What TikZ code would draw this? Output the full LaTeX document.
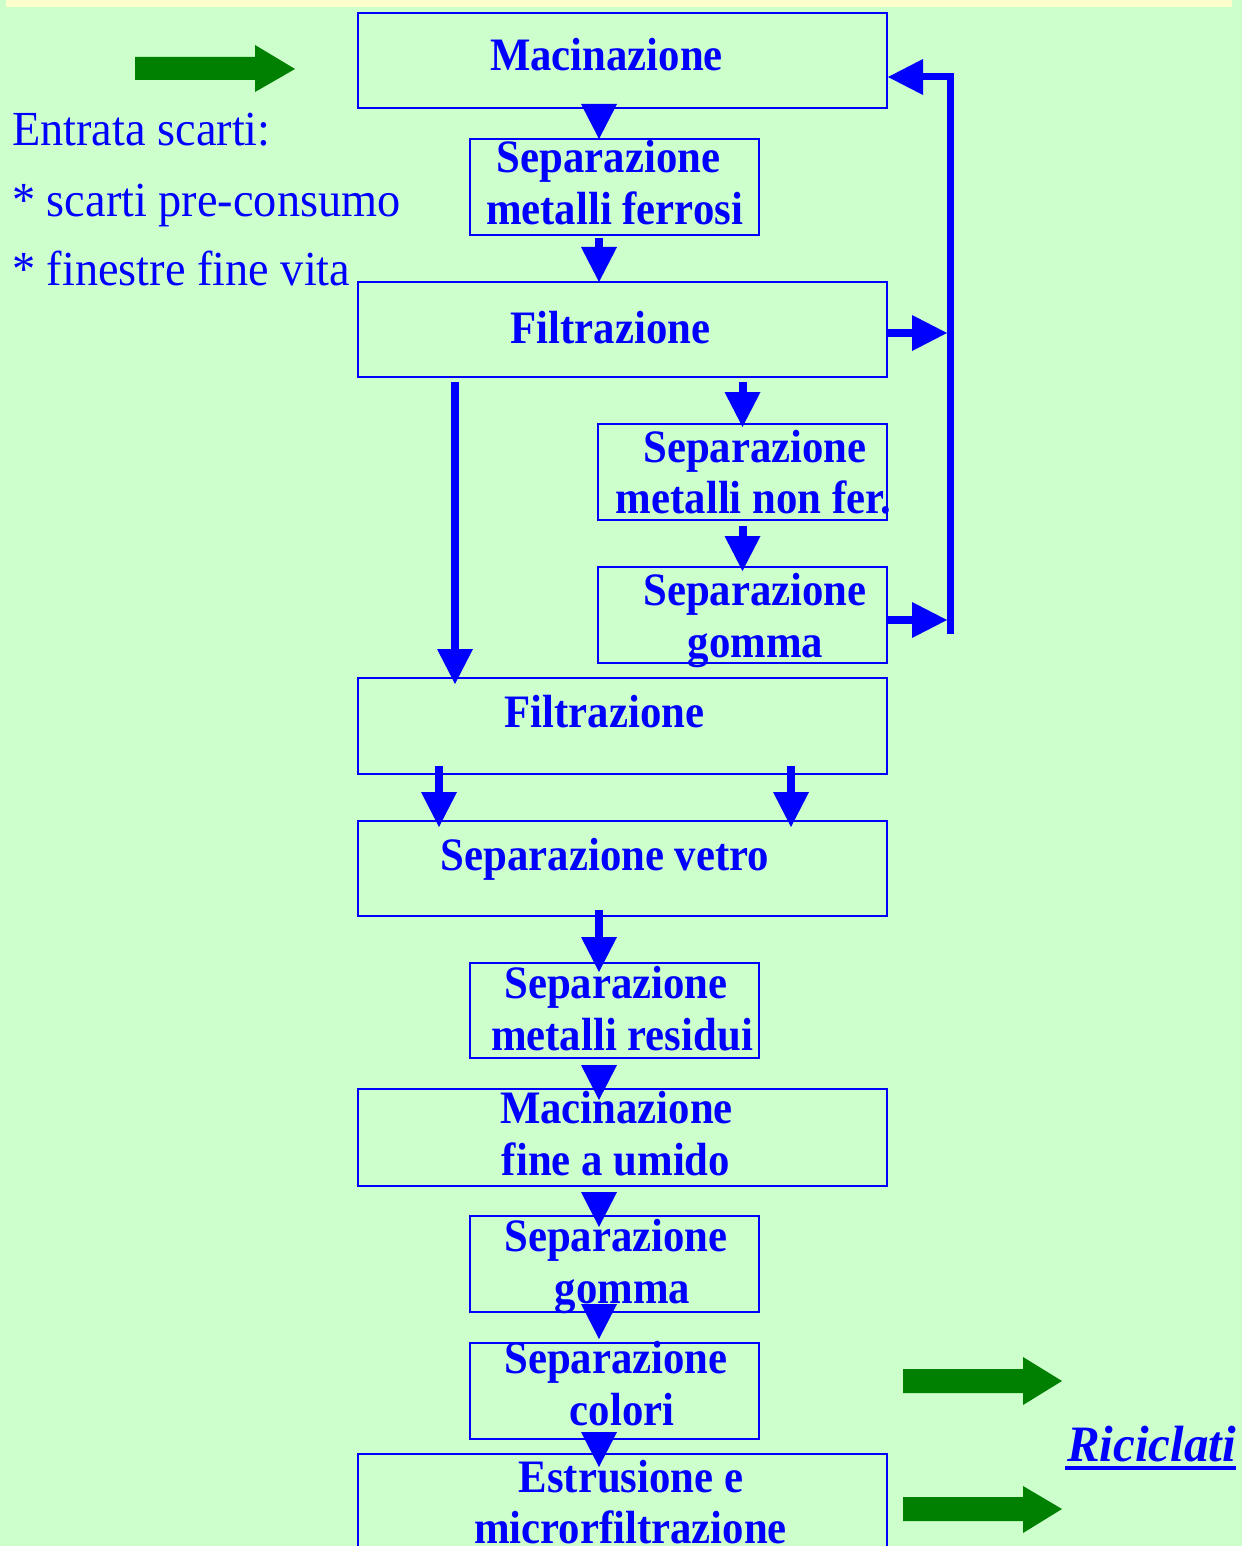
\documentclass[tikz,border=0pt]{standalone}
\usepackage{fontspec}
\setmainfont{Liberation Serif}
\newfontfamily\boxfont[FakeStretch=0.92]{Liberation Serif}
\newfontfamily\plainfont[FakeStretch=0.945]{Liberation Serif}
\newfontfamily\ricfont[FakeStretch=0.96]{Liberation Serif}
\usetikzlibrary{arrows.meta,calc}
\definecolor{bggreen}{HTML}{CCFFCC}
\definecolor{bgyellow}{HTML}{FFFFCC}
\definecolor{agreen}{HTML}{008000}
\definecolor{ablue}{HTML}{0000FF}
\tikzset{
  box/.style={draw=ablue, line width=2pt, inner sep=0pt, rectangle},
  wide/.style={box, minimum width=529pt},
  narrow/.style={box, minimum width=289pt},
  lbl/.style={anchor=base, inner sep=0pt, text=ablue, font={\boxfont\bfseries\fontsize{46.5pt}{52pt}\selectfont}},
  plain/.style={anchor=base west, inner sep=0pt, text=ablue, font={\plainfont\fontsize{49pt}{55pt}\selectfont}},
  barrow/.style={draw=ablue, line width=8pt, -{Triangle[width=36pt,length=35pt,line width=0pt]}},
  garrow/.style={fill=agreen}
}
\begin{document}
\begin{tikzpicture}[x=1pt,y=-1pt]
\useasboundingbox (0,0) rectangle (1242,1546);
\fill[bggreen] (0,0) rectangle (1242,1546);
\fill[bgyellow] (6,0) rectangle (1232,7);

% boxes
\node[wide, minimum height=95pt] (b1) at (622.5,60.5) {};
\node[narrow, minimum height=96pt] (b2) at (614.5,187) {};
\node[wide, minimum height=95pt] (b3) at (622.5,329.5) {};
\node[narrow, minimum height=96pt] (b4) at (742.5,472) {};
\node[narrow, minimum height=96pt] (b5) at (742.5,615) {};
\node[wide, minimum height=96pt] (b6) at (622.5,726) {};
\node[wide, minimum height=95pt] (b7) at (622.5,868.5) {};
\node[narrow, minimum height=95pt] (b8) at (614.5,1010.5) {};
\node[wide, minimum height=97pt] (b9) at (622.5,1137.5) {};
\node[narrow, minimum height=96pt] (b10) at (614.5,1264) {};
\node[narrow, minimum height=96pt] (b11) at (614.5,1391) {};
\node[wide, minimum height=100pt] (b12) at (622.5,1504) {};

% box texts
\node[lbl] (t1) at (606.5,71) {Macinazione};
\node[lbl] (t2a) at (608.5,173) {Separazione};
\node[lbl] (t2b) at (614.5,225) {metalli ferrosi};
\node[lbl] (t3) at (610.5,343) {Filtrazione};
\node[lbl] (t4a) at (755,462) {Separazione};
\node[lbl] (t4b) at (753.5,513) {metalli non fer.};
\node[lbl] (t5a) at (755,605) {Separazione};
\node[lbl] (t5b) at (755.5,657) {gomma};
\node[lbl] (t6) at (604.5,727) {Filtrazione};
\node[lbl] (t7) at (605,870) {Separazione vetro};
\node[lbl] (t8a) at (616,998) {Separazione};
\node[lbl] (t8b) at (622,1050) {metalli residui};
\node[lbl] (t9a) at (616.5,1123) {Macinazione};
\node[lbl] (t9b) at (616,1175) {fine a umido};
\node[lbl] (t10a) at (616,1251) {Separazione};
\node[lbl] (t10b) at (622.5,1303) {gomma};
\node[lbl] (t11a) at (616,1373) {Separazione};
\node[lbl] (t11b) at (622,1425) {colori};
\node[lbl] (t12a) at (631,1492) {Estrusione e};
\node[lbl] (t12b) at (630.5,1543) {microrfiltrazione};

% left texts
\node[plain] (e1) at (12,146) {Entrata scarti:};
\node[plain] (e2) at (12,217) {* scarti pre-consumo};
\node[plain] (e3) at (12,285) {* finestre fine vita};

% Riciclati
\node[anchor=base, inner sep=0pt, text=ablue, font={\ricfont\bfseries\itshape\fontsize{51pt}{56pt}\selectfont}] (ric) at (1151.5,1461) {Riciclati};
\draw[ablue, line width=4pt] ($(ric.base west)+(-2,7)$) -- ($(ric.base east)+(0,7)$);

% green arrows
\fill[garrow] (135,57) -- (255,57) -- (255,45) -- (295,69) -- (255,92) -- (255,80) -- (135,80) -- cycle;
\fill[garrow] (903,1369) -- (1023,1369) -- (1023,1357) -- (1062,1381) -- (1023,1405) -- (1023,1393) -- (903,1393) -- cycle;
\fill[garrow] (903,1497) -- (1023,1497) -- (1023,1486) -- (1062,1509) -- (1023,1533) -- (1023,1521) -- (903,1521) -- cycle;

% columns
\coordinate (cA) at (599,0);
\coordinate (cL) at (455,0);
\coordinate (cR) at (742.5,0);
\coordinate (cV1) at (439,0);
\coordinate (cV2) at (791,0);
\coordinate (fb) at (950.5,634);
\coordinate (ft) at (950.5,77);
\coordinate (f3) at (947,333);
\coordinate (f5) at (947,620);

% blue arrows
\draw[barrow] ($(b1.south -| cA)+(0,-4)$) -- ($(b2.north -| cA)+(0,1)$);
\draw[barrow] ($(b2.south -| cA)+(0,2)$) -- ($(b3.north -| cA)+(0,1)$);
\draw[barrow] ($(b3.south -| cL)+(0,4)$) -- ($(b6.north -| cL)+(0,7)$);
\draw[barrow] ($(b3.south -| cR)+(0,4)$) -- ($(b4.north -| cR)+(0,4)$);
\draw[barrow] ($(b4.south -| cR)+(0,5)$) -- ($(b5.north -| cR)+(0,5)$);
\draw[barrow] ($(b6.south -| cV1)+(0,-9)$) -- ($(b7.north -| cV1)+(0,7)$);
\draw[barrow] ($(b6.south -| cV2)+(0,-9)$) -- ($(b7.north -| cV2)+(0,7)$);
\draw[barrow] ($(b7.south -| cA)+(0,-7)$) -- ($(b8.north -| cA)+(0,10)$);
\draw[barrow] ($(b8.south -| cA)+(0,6)$) -- ($(b9.north -| cA)+(0,12)$);
\draw[barrow] ($(b9.south -| cA)+(0,6)$) -- ($(b10.north -| cA)+(0,12)$);
\draw[barrow] ($(b10.south -| cA)+(0,-7)$) -- ($(b11.north -| cA)+(0,-3)$);
\draw[barrow] ($(b11.south -| cA)+(0,-7)$) -- ($(b12.north -| cA)+(0,14)$);

% feedback loop
\draw[barrow] ($(b3.east)+(0,3.5)$) -- (f3);
\draw[barrow] ($(b5.east)+(0,5)$) -- (f5);
\draw[barrow, line width=7pt, line join=miter] (fb) -- (ft) -- (b1.east |- ft);
\end{tikzpicture}
\end{document}
